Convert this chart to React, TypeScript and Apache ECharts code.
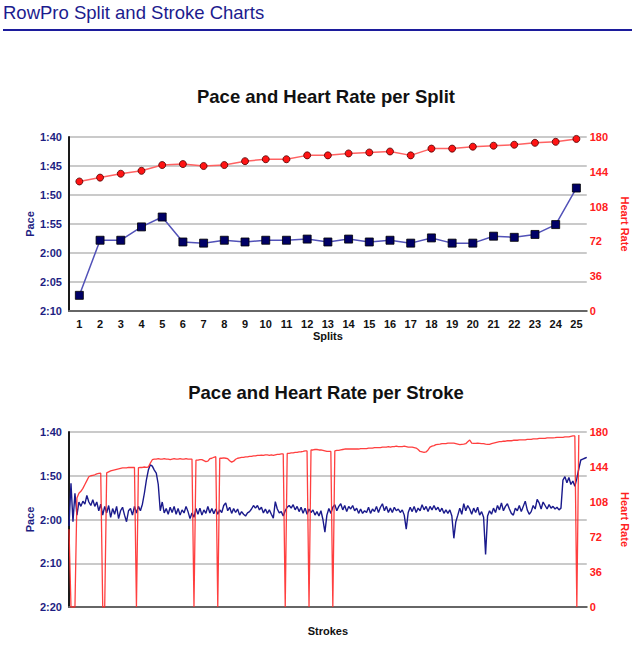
import React, { useEffect, useRef } from "react";
import * as echarts from "echarts";

// ---------- Split chart data ----------
const splits = [
  "1", "2", "3", "4", "5", "6", "7", "8", "9", "10", "11", "12", "13",
  "14", "15", "16", "17", "18", "19", "20", "21", "22", "23", "24", "25",
];
// pace per split, seconds per 500m
const splitPace = [
  127.3, 117.8, 117.8, 115.5, 113.8, 118.1, 118.3, 117.8, 118.1, 117.8,
  117.8, 117.6, 118.1, 117.6, 118.1, 117.8, 118.3, 117.4, 118.3, 118.3,
  117.1, 117.3, 116.8, 115.1, 108.8,
];
const splitHeartRate = [
  134, 138, 142, 145, 151, 152, 150, 151, 155, 157, 157, 161, 161, 163, 164,
  165, 161, 168, 168, 170, 171, 172, 174, 175, 178,
];
const splitPaceTicks = ["1:40", "1:45", "1:50", "1:55", "2:00", "2:05", "2:10"];

// ---------- Stroke chart data ----------
const strokePace = [
  121.5, 111.7, 120.5, 114, 119, 116, 117, 115.8, 116.5, 114.5,
  116, 116.8, 115.5, 117, 116, 118, 116.5, 119, 117, 118.5,
  116.8, 119.5, 117.5, 118.8, 117, 119.8, 118, 117.2, 119, 120.5,
  118, 117.5, 119, 117, 118.5, 117, 118, 116.5, 114, 111,
  108.7, 107.5, 107.8, 108.7, 109.4, 112, 118, 116, 118.5, 117.5,
  118.8, 117.2, 118.4, 117, 118.8, 117.5, 119, 117.8, 118.5, 117,
  118.2, 119.8, 118.5, 119.5, 117.5, 118.8, 117.4, 119, 117.8, 118.6,
  117, 118.5, 117.5, 118.7, 117.6, 118.8, 117.8, 118.4, 116.8, 116.2,
  118, 117.2, 118.6, 117.5, 118.4, 117.6, 119, 118.2, 118.8, 119.2,
  118.5, 118.2, 117.6, 116.8, 117.4, 116.8, 117.8, 117.2, 118.5, 117.6,
  118.6, 117.8, 118.8, 119.7, 115.9, 117.6, 118.5, 118.2, 119.2, 118,
  117.2, 116.8, 117.4, 116.6, 117.8, 117, 118.2, 117.2, 118.6, 117.4,
  118.8, 117.6, 118.4, 117.8, 119, 118.2, 119.2, 118, 120, 122.9,
  119, 117.5, 118.6, 117.2, 116.6, 118, 117, 116.4, 117.8, 116.8,
  118.2, 117, 117.6, 116.8, 118, 117.4, 118.6, 117.6, 118.6, 118,
  118.4, 117.2, 118.6, 117.6, 118.2, 117, 118.4, 117.2, 116.4, 118,
  117, 118.4, 117.4, 118.4, 117.2, 118, 117.6, 118.4, 117.8, 119,
  122.2, 118.4, 117.2, 118.2, 117, 118.4, 117.4, 118, 116.6, 117.8,
  117, 118.2, 117, 117.8, 116.8, 117.8, 117.2, 118.2, 117.4, 118.6,
  117.8, 118.6, 117.8, 119.2, 124.3, 120.5, 119, 117.4, 118.8, 116.4,
  118, 116.8, 117.6, 118.8, 117.4, 118.4, 117.2, 119, 118.2, 119.5,
  128, 119.2, 118, 118.8, 117.4, 118.4, 116.8, 117.8, 116.2, 118,
  117, 116.4, 117.6, 118.6, 119, 117.4, 118, 116.8, 118.2, 117,
  115.8, 117.8, 118.8, 118.2, 116.8, 117.6, 115.4, 116.2, 117.6, 116,
  116.8, 117.6, 116.6, 117.4, 117, 117.6, 117.2, 117.8, 117.4, 111,
  110.2, 111.6, 110.4, 112, 111.2, 112.4, 110.6, 108.4, 106.4, 106.2,
  106, 105.8,
];
const strokeHeartRate: (number | null)[] = [
  80, 0, 0, 0, 112, 117, 119, 122, 126, 130,
  134, 135, 135.5, 136, 137, 137.5, 137.6, 0, 0, 138,
  139, 140, 140.5, 141, 141.5, 142, 142.5, 143, 143, 143,
  143.5, 143.5, 143.5, 143.5, 0, 143.3, 143.5, 143.5, 144, 143.5,
  144, 148, 151.5, 152, 152, 152.5, 152, 152, 152.5, 152,
  152, 151.5, 152, 152.5, 152, 152, 152.5, 152, 152, 152.5,
  152, 152, 152, 0, 151, 151, 151.5, 151.5, 150.5, 149.5,
  150, 152.5, 153, 154, 154.6, 0, 153, 153, 153.5, 153,
  152.5, 150.5, 149, 150, 152, 153, 153.5, 154, 154, 154.5,
  154.5, 155, 155, 155.5, 155.5, 156, 156, 156.3, 156, 156.5,
  156.5, 156, 156.5, 156, 156.5, 157, 157, 157.4, 157.4, 0,
  158, 158, 158.5, 158.5, 159, 159, 159.5, 159.7, 160, 160.5,
  160.5, 0, 161.5, 161.5, 162, 162, 161.5, 161.5, 161, 160.5,
  160, 160, 160, 0, 160.5, 161, 161, 161.5, 162, 162.5,
  162.5, 162.5, 162.5, 162.5, 162.5, 162.5, 162.5, 163, 163, 163,
  163, 163.5, 163.5, 163.5, 164, 164, 164, 164, 164.5, 164.5,
  164.5, 165, 164.5, 165, 165, 165.5, 165, 165, 165, 165.5,
  165, 164.5, 164.5, 164.5, 164, 163.5, 162, 160, 159.5, 159,
  159.5, 161.5, 164.5, 165.5, 166, 167, 167.3, 167.5, 168, 168,
  168, 168.5, 168.5, 168.5, 168.5, 168, 167.5, 167, 167.3, 167.5,
  168, 170, 171.8, 168.5, 168.3, 168.3, 168.5, 168.3, 168, 168,
  167.5, 167.3, 167.3, 168, 168.5, 169, 169.5, 170, 170, 170.5,
  170.5, 171, 171, 171, 171.5, 171.5, 171.5, 171.8, 171.8, 171.8,
  172, 172.5, 172.5, 172.5, 173, 173, 173, 173.5, 173.5, 173.5,
  173.5, 174, 174, 174, 174, 174.2, 174.5, 174.5, 174.5, 174.5,
  175, 175, 175, 175.5, 176, 176, 0, 177, null, null,
  null, null,
];
const strokes = strokePace.map((_, i) => String(i + 1));
const strokePaceTicks = ["1:40", "1:50", "2:00", "2:10", "2:20"];

const NAVY = "#1e1e82";
const RED = "#ff2020";
const FONT = "'Liberation Sans', Arial, Helvetica, sans-serif";

function leftAxis(grid: number, min: number, max: number, step: number, ticks: string[]) {
  return {
    gridIndex: grid,
    type: "value",
    inverse: true,
    position: "left",
    min,
    max,
    interval: step,
    axisLine: { show: true, lineStyle: { color: "#1a1a1a", width: 2 } },
    axisTick: { show: false },
    axisLabel: {
      color: NAVY,
      fontWeight: "bold",
      fontSize: 11,
      fontFamily: FONT,
      margin: 7,
      formatter: (v: number) => ticks[Math.round((v - min) / step)] ?? "",
    },
    splitLine: { show: true, lineStyle: { color: "#b8b8b8", width: 1.5 } },
    name: "Pace",
    nameLocation: "middle",
    nameRotate: 90,
    nameGap: 34,
    nameMoveOverlap: false,
    nameTextStyle: { color: NAVY, fontWeight: "bold", fontSize: 11, fontFamily: FONT },
  };
}

function rightAxis(grid: number) {
  return {
    gridIndex: grid,
    type: "value",
    position: "right",
    min: 0,
    max: 180,
    interval: 36,
    axisLine: { show: false },
    axisTick: { show: false },
    splitLine: { show: false },
    axisLabel: { color: RED, fontWeight: "bold", fontSize: 11, fontFamily: FONT, margin: 3 },
    name: "Heart Rate",
    nameLocation: "middle",
    nameRotate: -90,
    nameGap: 28,
    nameTextStyle: { color: RED, fontWeight: "bold", fontSize: 11, fontFamily: FONT },
  };
}

export default function App() {
  const ref = useRef<HTMLDivElement>(null);
  useEffect(() => {
    if (!ref.current) return;
    const chart = echarts.init(ref.current, undefined, { renderer: "svg" });
    const option = {
      animation: false,
      backgroundColor: "#ffffff",
      textStyle: { fontFamily: FONT },
      graphic: [
        {
          type: "text",
          x: 3,
          y: 12,
          style: {
            text: "RowPro Split and Stroke Charts",
            fill: "#1c1c8e",
            font: `18.5px ${FONT}`,
            textVerticalAlign: "middle",
          },
        },
        {
          type: "line",
          shape: { x1: 3, y1: 30, x2: 632, y2: 30 },
          style: { stroke: "#1c1c9c", lineWidth: 2 },
        },
        {
          type: "text",
          x: 326,
          y: 96,
          style: {
            text: "Pace and Heart Rate per Split",
            fill: "#111111",
            font: `bold 18.5px ${FONT}`,
            textAlign: "center",
            textVerticalAlign: "middle",
          },
        },
        {
          type: "text",
          x: 326,
          y: 392,
          style: {
            text: "Pace and Heart Rate per Stroke",
            fill: "#111111",
            font: `bold 18.5px ${FONT}`,
            textAlign: "center",
            textVerticalAlign: "middle",
          },
        },
      ],
      grid: [
        { left: 69, top: 137, width: 522, height: 174 },
        { left: 69, top: 432, width: 522, height: 175 },
      ],
      xAxis: [
        {
          gridIndex: 0,
          type: "category",
          data: splits,
          boundaryGap: true,
          axisTick: { show: false },
          axisLine: { lineStyle: { color: "#666666", width: 2 } },
          axisLabel: { color: "#111", fontWeight: "bold", fontSize: 11, fontFamily: FONT, margin: 7, interval: 0 },
          name: "Splits",
          nameLocation: "middle",
          nameGap: 19,
          nameTextStyle: { color: "#111", fontWeight: "bold", fontSize: 11, fontFamily: FONT },
        },
        {
          gridIndex: 1,
          type: "category",
          data: strokes,
          boundaryGap: false,
          axisTick: { show: false },
          axisLine: { lineStyle: { color: "#666666", width: 2 } },
          axisLabel: { show: false },
          name: "Strokes",
          nameLocation: "middle",
          nameGap: 18,
          nameTextStyle: { color: "#111", fontWeight: "bold", fontSize: 11, fontFamily: FONT },
        },
      ],
      yAxis: [
        leftAxis(0, 100, 130, 5, splitPaceTicks),
        rightAxis(0),
        leftAxis(1, 100, 140, 10, strokePaceTicks),
        rightAxis(1),
      ],
      series: [
        {
          name: "Pace",
          type: "line",
          xAxisIndex: 0,
          yAxisIndex: 0,
          data: splitPace,
          symbol: "rect",
          symbolSize: 8,
          itemStyle: { color: "#000066", borderColor: "#000000", borderWidth: 0.8 },
          lineStyle: { color: "#5252b8", width: 1.5 },
          z: 3,
        },
        {
          name: "Heart Rate",
          type: "line",
          xAxisIndex: 0,
          yAxisIndex: 1,
          data: splitHeartRate,
          symbol: "circle",
          symbolSize: 7,
          itemStyle: { color: "#ff1414", borderColor: "#4a0000", borderWidth: 0.8 },
          lineStyle: { color: "#ff6262", width: 1.5 },
          z: 3,
        },
        {
          name: "Stroke Pace",
          type: "line",
          xAxisIndex: 1,
          yAxisIndex: 2,
          data: strokePace,
          symbol: "none",
          lineStyle: { color: "#1a1a8c", width: 1.4 },
        },
        {
          name: "Stroke Heart Rate",
          type: "line",
          xAxisIndex: 1,
          yAxisIndex: 3,
          data: strokeHeartRate,
          symbol: "none",
          connectNulls: false,
          lineStyle: { color: "#ff2a2a", width: 1.3, opacity: 0.9 },
        },
      ],
    };
    chart.setOption(option as any);
    return () => chart.dispose();
  }, []);
  return (
    <div
      ref={ref}
      style={{ position: "absolute", left: 0, top: 0, width: 638, height: 645, background: "#fff" }}
    />
  );
}
